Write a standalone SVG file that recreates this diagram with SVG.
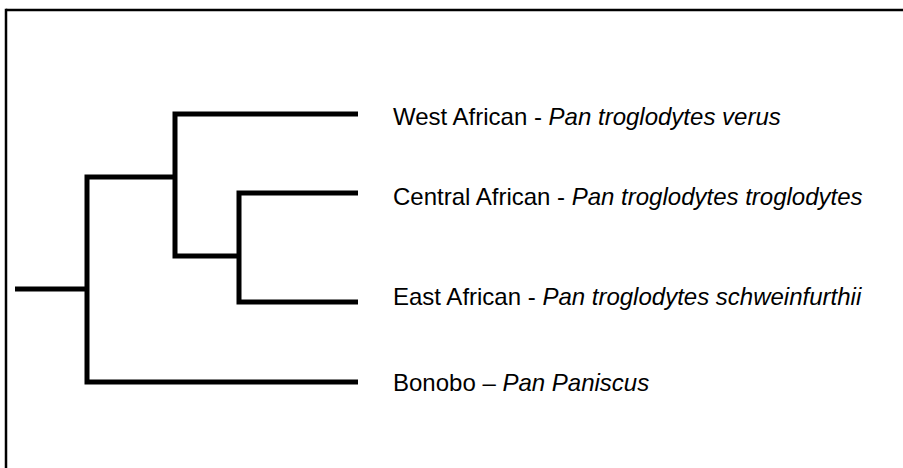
<svg xmlns="http://www.w3.org/2000/svg" width="903" height="468" viewBox="0 0 903 468">
<style>
.border{stroke:#000;stroke-width:2.5;fill:none}
.br{stroke:#000;stroke-width:5;fill:none;stroke-linecap:butt;stroke-linejoin:miter}
.lbl{font-family:"Liberation Sans",Arial,sans-serif;font-size:24px;fill:#000}
.it{font-style:italic}
</style>
<rect width="903" height="468" fill="#fff"/>
<g id="frame">
<line class="border" x1="6" y1="10" x2="903" y2="10"/>
<line class="border" x1="6" y1="8.75" x2="6" y2="468"/>
</g>
<g id="connectors">
<path class="br" d="M15 289 H87"/>
<path class="br" d="M358 382 H87 V177 H175"/>
<path class="br" d="M358 114 H175 V256 H239"/>
<path class="br" d="M358 193 H239 V302 H358"/>
</g>
<g id="west"><text class="lbl" x="393" y="125">West African - <tspan class="it">Pan troglodytes verus</tspan></text></g>
<g id="central"><text class="lbl" x="393" y="205">Central African - <tspan class="it">Pan troglodytes troglodytes</tspan></text></g>
<g id="east"><text class="lbl" x="393" y="305">East African - <tspan class="it">Pan troglodytes schweinfurthii</tspan></text></g>
<g id="bonobo"><text class="lbl" x="393" y="391">Bonobo – <tspan class="it">Pan Paniscus</tspan></text></g>
</svg>
